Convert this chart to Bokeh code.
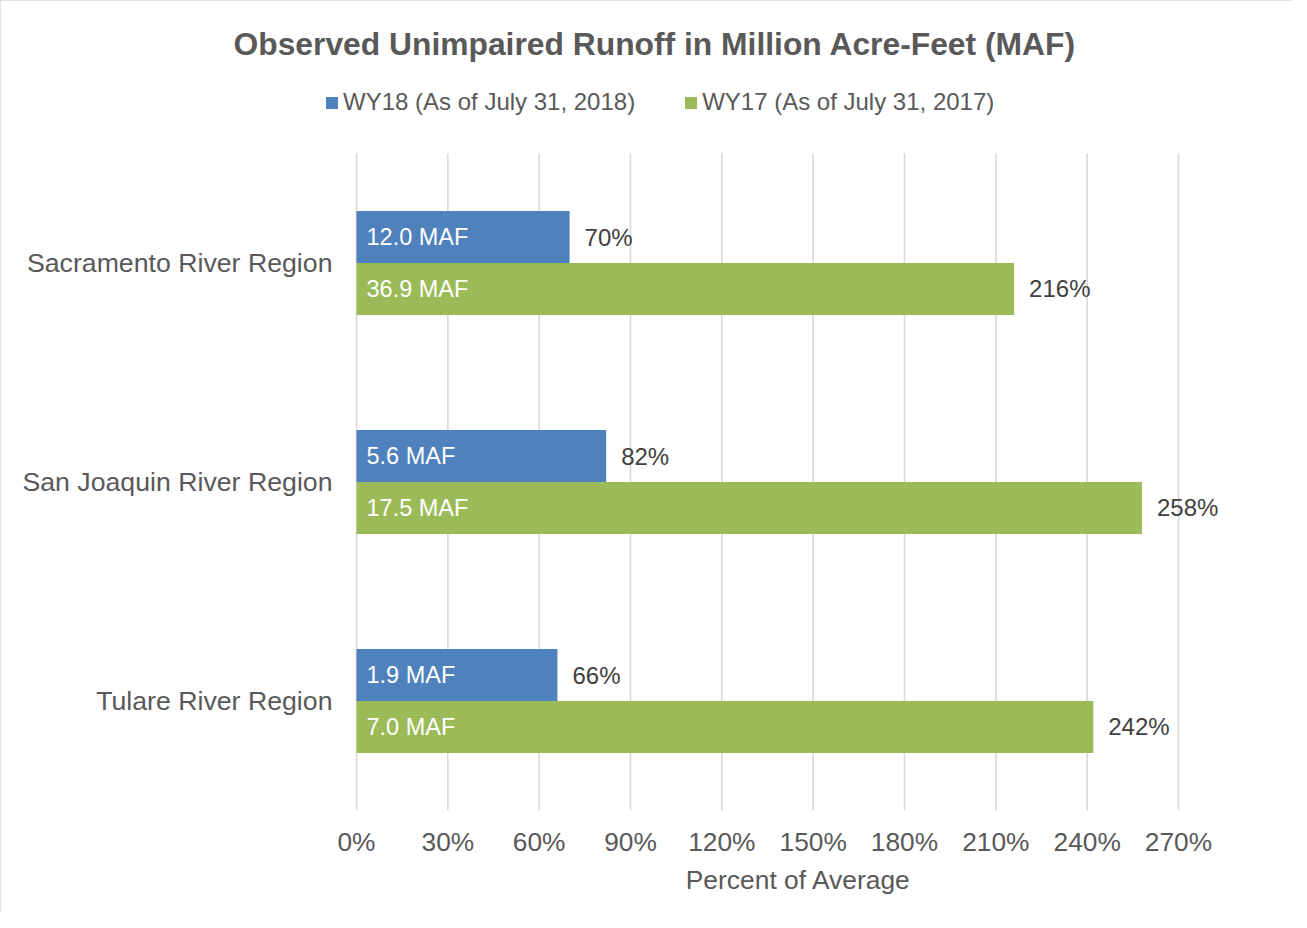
from bokeh.plotting import figure
from bokeh.models import (ColumnDataSource, Range1d, FixedTicker, Title,
                          Legend, LegendItem)
from bokeh.core.properties import value
from bokeh.embed import file_html
from bokeh.resources import INLINE

# ---- data ----
regions = ["Sacramento River Region", "San Joaquin River Region", "Tulare River Region"]
wy18_pct = [70, 82, 66]
wy17_pct = [216, 258, 242]
wy18_maf = [12.0, 5.6, 1.9]
wy17_maf = [36.9, 17.5, 7.0]
series_names = ["WY18 (As of July 31, 2018)", "WY17 (As of July 31, 2017)"]
x_ticks = [0, 30, 60, 90, 120, 150, 180, 210, 240, 270]
x_tick_labels = ["0%", "30%", "60%", "90%", "120%", "150%", "180%", "210%", "240%", "270%"]
title_text = "Observed Unimpaired Runoff in Million Acre-Feet (MAF)"
x_title = "Percent of Average"

BLUE = "#4F81BD"
GREEN = "#9BBB59"
GREY = "#595959"
DARK = "#404040"
FONT = "Liberation Sans"

n = len(regions)
y_pos = [n - 0.5 - i for i in range(n)]      # category centres, top to bottom
OFF = 0.1187                                  # half bar height offset
H = 0.2374                                    # bar thickness (category units)

src = ColumnDataSource(dict(
    y18=[y + OFF for y in y_pos],
    y17=[y - OFF for y in y_pos],
    zero=[0] * n,
    wy18=wy18_pct,
    wy17=wy17_pct,
    wy18_maf=[f"{v:.1f} MAF" for v in wy18_maf],
    wy17_maf=[f"{v:.1f} MAF" for v in wy17_maf],
    wy18_lab=[f"{v}%" for v in wy18_pct],
    wy17_lab=[f"{v}%" for v in wy17_pct],
))
grid_src = ColumnDataSource(dict(x=x_ticks, y0=[0] * len(x_ticks), y1=[n] * len(x_ticks)))

# geometry (pixels)
PX_X = 822 / 270.0          # px per percent
PX_Y = 219.0                # px per category
ZERO_X = 356                # page x of 0%
FRAME_L, FRAME_R = 318, 1278
FRAME_T, FRAME_B = 66, 810
CAT_TOP = 153

p = figure(
    x_range=Range1d(-(ZERO_X - FRAME_L) / PX_X, (FRAME_R - ZERO_X) / PX_X),
    y_range=Range1d(0, n + (CAT_TOP - FRAME_T) / PX_Y),
    frame_width=FRAME_R - FRAME_L, frame_height=FRAME_B - FRAME_T,
    min_border_left=FRAME_L, min_border_right=1291 - FRAME_R,
    min_border_top=FRAME_T, min_border_bottom=912 - FRAME_B,
    output_backend="svg", toolbar_location=None,
    background_fill_color="white", border_fill_color="white",
)
p.outline_line_color = None
p.styles = {"outline": "1px solid #D9D9D9", "outline-offset": "-1px"}
p.xgrid.grid_line_color = None
p.ygrid.grid_line_color = None

# vertical gridlines
p.segment(x0="x", x1="x", y0="y0", y1="y1", source=grid_src,
          line_color="#D9D9D9", line_width=1.6)

r18 = p.hbar(y="y18", left="zero", right="wy18", height=H, source=src,
             fill_color=BLUE, line_color=None)
r17 = p.hbar(y="y17", left="zero", right="wy17", height=H, source=src,
             fill_color=GREEN, line_color=None)

# inside labels
p.text(x="zero", y="y18", text="wy18_maf", source=src, x_offset=10,
       text_baseline="middle", text_align="left", text_color="white",
       text_font=value(FONT), text_font_size="23.5px")
p.text(x="zero", y="y17", text="wy17_maf", source=src, x_offset=10,
       text_baseline="middle", text_align="left", text_color="white",
       text_font=value(FONT), text_font_size="23.5px")
# percent labels
p.text(x="wy18", y="y18", text="wy18_lab", source=src, x_offset=15,
       text_baseline="middle", text_align="left", text_color=DARK,
       text_font=value(FONT), text_font_size="24px")
p.text(x="wy17", y="y17", text="wy17_lab", source=src, x_offset=15,
       text_baseline="middle", text_align="left", text_color=DARK,
       text_font=value(FONT), text_font_size="24px")

# axes
p.xaxis.ticker = FixedTicker(ticks=x_ticks)
p.xaxis.major_label_overrides = {t: l for t, l in zip(x_ticks, x_tick_labels)}
p.yaxis.ticker = FixedTicker(ticks=y_pos)
p.yaxis.major_label_overrides = {y: r for y, r in zip(y_pos, regions)}
for ax in (p.xaxis, p.yaxis):
    ax.axis_line_color = None
    ax.major_tick_line_color = None
    ax.minor_tick_line_color = None
    ax.major_tick_out = 0
    ax.minor_tick_out = 0
    ax.major_label_text_color = GREY
    ax.major_label_text_font = FONT
p.xaxis.major_label_text_font_size = "26.3px"
p.yaxis.major_label_text_font_size = "26.7px"
p.xaxis.major_label_standoff = 16
p.yaxis.major_label_standoff = -(332 - FRAME_L)

p.xaxis.axis_label = x_title
p.xaxis.axis_label_text_font = FONT
p.xaxis.axis_label_text_font_size = "26.4px"
p.xaxis.axis_label_text_font_style = "normal"
p.xaxis.axis_label_text_color = GREY
p.xaxis.axis_label_standoff = 5

legend = Legend(items=[LegendItem(label=series_names[0], renderers=[r18]),
                       LegendItem(label=series_names[1], renderers=[r17])],
                orientation="horizontal", location=(324 - FRAME_L, FRAME_B - 116),
                glyph_width=15, glyph_height=15, label_standoff=4, spacing=48,
                label_height=15, padding=0, margin=0, border_line_color=None,
                background_fill_alpha=0,
                label_text_font=FONT, label_text_font_size="24px", label_text_color=GREY)
p.add_layout(legend, "center")

p.add_layout(Title(text=title_text, align="left", offset=233 - FRAME_L, text_color=GREY,
                   text_font=FONT, text_font_size="31.8px", text_font_style="bold"),
             "above")

open("out.html", "w").write(file_html(p, INLINE))
